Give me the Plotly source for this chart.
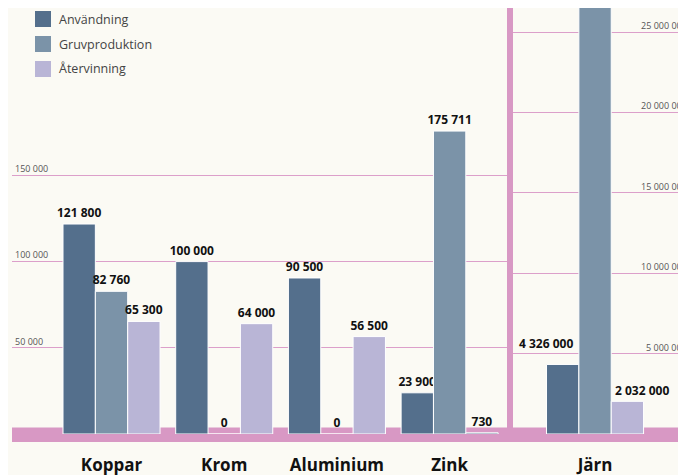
import plotly.graph_objects as go

# ---- data ----
metals_left = ["Koppar", "Krom", "Aluminium", "Zink"]
anvandning_left = [121800, 100000, 90500, 23900]
gruvproduktion_left = [82760, 0, 0, 175711]
atervinning_left = [65300, 64000, 56500, 730]

metal_right = ["Järn"]
anvandning_right = [4326000]
gruvproduktion_right = [27500000]
atervinning_right = [2032000]

left_tickvals = [50000, 100000, 150000]
left_ticktext = ["50 000", "100 000", "150 000"]
right_tickvals = [5000000, 10000000, 15000000, 20000000, 25000000]
right_ticktext = ["5 000 000", "10 000 000", "15 000 000", "20 000 000", "25 000 000"]

series_names = ["Användning", "Gruvproduktion", "Återvinning"]

# ---- styles ----
C_ANV = "#546f8c"
C_GRUV = "#7b93a8"
C_ATER = "#b9b5d6"
PINK = "#d898c4"
GRID = "#dc9fca"
BG = "#fbfaf4"
FONT = "Open Sans"
VALFONT = dict(family=FONT, size=12, color="#111111", weight="bold")

colors = [C_ANV, C_GRUV, C_ATER]
left_series = [anvandning_left, gruvproduktion_left, atervinning_left]
right_series = [anvandning_right, gruvproduktion_right, atervinning_right]

# page offset of the figure (default body margin of the html page)
OFF = 8
FIG_W, FIG_H = 686 - OFF, 475 - OFF
PLOT_LEFT, PLOT_BOTTOM = 12, 434          # page pixels
PLOT_W = 686 - PLOT_LEFT
PLOT_H = PLOT_BOTTOM - OFF


def px_x(px):
    return (px - PLOT_LEFT) / PLOT_W


def px_y(py):
    return (PLOT_BOTTOM - py) / PLOT_H


fig = go.Figure()

for i, (name, vals) in enumerate(zip(series_names, left_series)):
    mcolors = [colors[i]] * len(vals)
    if i == 2:
        # the tiny zinc recycling bar is drawn dark in the original
        mcolors[3] = C_ANV
    fig.add_trace(go.Bar(
        name=name, x=metals_left, y=vals,
        marker=dict(color=mcolors, line=dict(color="white", width=1)),
        offsetgroup=str(i), showlegend=False,
        texttemplate="%{y:,d}", textposition="outside", constraintext="none",
        textfont=VALFONT, cliponaxis=False,
        xaxis="x", yaxis="y",
    ))

for i, (name, vals) in enumerate(zip(series_names, right_series)):
    fig.add_trace(go.Bar(
        name=name, x=metal_right, y=vals,
        marker=dict(color=colors[i], line=dict(color="white", width=1)),
        offsetgroup=str(i), showlegend=False,
        xaxis="x2", yaxis="y2",
    ))

# value labels for iron (offset from the bars in the original)
fig.add_annotation(x=metal_right[0], y=anvandning_right[0], xref="x2", yref="y2",
                   text=f"{anvandning_right[0]:,}".replace(",", " "),
                   showarrow=False, yanchor="bottom", xshift=-49, yshift=10, font=VALFONT)
fig.add_annotation(x=metal_right[0], y=atervinning_right[0], xref="x2", yref="y2",
                   text=f"{atervinning_right[0]:,}".replace(",", " "),
                   showarrow=False, yanchor="bottom", xshift=47, yshift=0, font=VALFONT)

tickfont_small = dict(family=FONT, size=9, color="#555555")
catfont = dict(family=FONT, size=17, color="#111111", weight="bold")

# right-scale tick labels, running off the right edge as in the original
for v, t in zip(right_tickvals, right_ticktext):
    fig.add_annotation(x=px_x(688.5), y=v, xref="paper", yref="y2", text=t,
                       showarrow=False, xanchor="right", yanchor="bottom", yshift=-2,
                       font=tickfont_small)

shapes = [
    # pink baseline band
    dict(type="rect", xref="paper", yref="paper", x0=0, x1=1,
         y0=px_y(442), y1=px_y(427.5),
         fillcolor=PINK, line=dict(width=0), layer="below"),
    # vertical separator
    dict(type="rect", xref="paper", yref="paper", x0=px_x(507), x1=px_x(513),
         y0=0, y1=1,
         fillcolor=PINK, line=dict(width=0), layer="below"),
]

# legend (drawn manually to match the large swatches)
for i, name in enumerate(series_names):
    yc = 19 + 25 * i
    shapes.append(dict(type="rect", xref="paper", yref="paper",
                       x0=px_x(35), x1=px_x(51), y0=px_y(yc + 8), y1=px_y(yc - 8),
                       fillcolor=colors[i], line=dict(width=0)))
    fig.add_annotation(x=px_x(57), y=px_y(yc), xref="paper", yref="paper",
                       text=name, showarrow=False, xanchor="left", yanchor="middle",
                       font=dict(family=FONT, size=12.5, color="#444444"))

# value at the top edge of the plot area for each scale
left_top = 50000 * PLOT_H / 86.2
right_top = 5000000 * PLOT_H / 80.4

fig.update_layout(
    width=FIG_W, height=FIG_H,
    margin=dict(l=PLOT_LEFT - OFF, r=0, t=0, b=FIG_H - (PLOT_BOTTOM - OFF), autoexpand=False),
    paper_bgcolor=BG, plot_bgcolor=BG,
    barmode="group", bargap=0.139, bargroupgap=0,
    separators=", ",
    shapes=shapes,
    showlegend=False,
    xaxis=dict(domain=[0, px_x(507)], range=[-0.883, 3.509],
               showgrid=False, zeroline=False, showline=False, ticks="",
               tickfont=catfont, ticklabelstandoff=19, anchor="y", automargin=False),
    xaxis2=dict(domain=[px_x(513), 1], range=[-0.728, 0.807],
                showgrid=False, zeroline=False, showline=False, ticks="",
                tickfont=catfont, ticklabelstandoff=19, anchor="y2", automargin=False),
    yaxis=dict(range=[0, left_top], tickvals=left_tickvals, ticktext=left_ticktext,
               showgrid=True, gridcolor=GRID, gridwidth=1, zeroline=False,
               showline=False, ticks="", ticklabelposition="inside top",
               tickfont=tickfont_small, anchor="x", automargin=False),
    yaxis2=dict(range=[0, right_top], tickvals=right_tickvals, showticklabels=False,
                side="right", showgrid=True, gridcolor=GRID, gridwidth=1, zeroline=False,
                showline=False, ticks="", anchor="x2", automargin=False),
    font=dict(family=FONT),
)
fig.write_html("out.html")
